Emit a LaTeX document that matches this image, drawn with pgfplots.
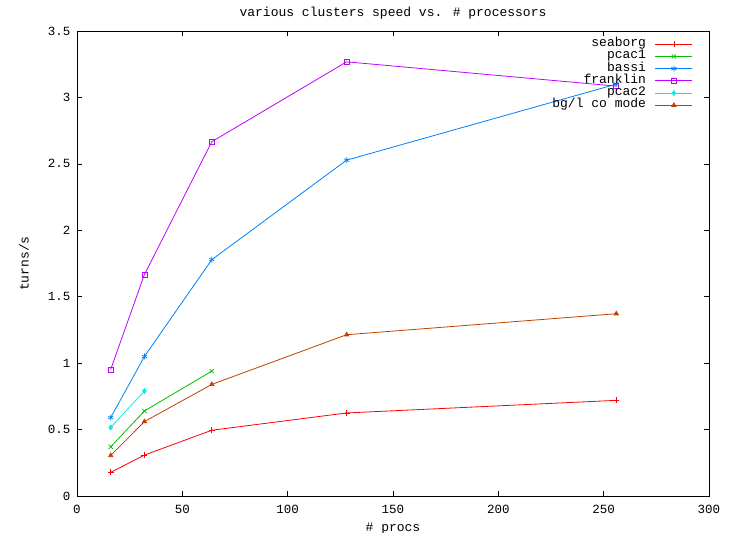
\documentclass[border=0pt]{standalone}
\usepackage{fontspec}
\setmainfont{Liberation Mono}
\usepackage{pgfplots}
\pgfplotsset{compat=1.18}
\definecolor{gpred}{RGB}{255,0,0}
\definecolor{gpgreen}{RGB}{0,192,0}
\definecolor{gpblue}{RGB}{0,128,255}
\definecolor{gpmag}{RGB}{192,0,255}
\definecolor{gpcyan}{RGB}{0,238,238}
\definecolor{gpbrown}{RGB}{192,64,0}
\begin{document}
\begin{tikzpicture}[x=1pt,y=1pt]
\useasboundingbox (-77,-37) rectangle (655,496);
\begin{axis}[
  scale only axis,
  width=632pt, height=465pt,
  at={(0,0)}, anchor=south west,
  xmin=0, xmax=300, ymin=0, ymax=3.5,
  xtick={0,50,...,300},
  ytick={0,0.5,...,3.5},
  tick align=inside,
  major tick length=5pt,
  axis line style={line width=0.6pt},
  every tick/.style={black, line width=0.6pt},
  font=\fontsize{12.5}{14}\selectfont,
  /pgf/number format/assume math mode=true,
  title={various clusters speed vs. \# processors},
  title style={at={(axis description cs:0.5,1.026)}, anchor=center, font=\fontsize{13}{15}\selectfont},
  xlabel={\# procs},
  xlabel style={at={(axis description cs:0.5,-0.071)}, anchor=center, font=\fontsize{13}{15}\selectfont},
  ylabel={turns/s},
  ylabel style={at={(axis description cs:-0.084,0.5)}, anchor=center, font=\fontsize{13}{15}\selectfont},
  xticklabel style={yshift=-6pt},
  yticklabel style={xshift=-3pt},
  legend plot pos=right,
  legend cell align=right,
  legend style={draw=none, fill=none, at={(axis description cs:0.9747,0.985)}, anchor=north east,
    inner sep=0pt, row sep=0pt, font=\fontsize{13}{15}\selectfont,
    nodes={inner sep=0pt, text height=8.5pt, text depth=3.7pt},
    /tikz/every odd column/.style={column sep=9pt}},
  legend image code/.code={\draw[mark repeat=2,mark phase=2] plot coordinates {(0pt,0pt) (18.5pt,0pt) (37pt,0pt)};},
  every axis plot/.append style={line width=0.8pt, mark size=3pt, mark options={solid, line width=0.7pt}},
]
\addplot[gpred, mark=+] coordinates {(16,0.178) (32,0.308) (64,0.495) (128,0.625) (256,0.72)};
\addlegendentry{seaborg}
\addplot[gpgreen, mark=x] coordinates {(16,0.37) (32,0.64) (64,0.94)};
\addlegendentry{pcac1}
\addplot[gpblue, mark=asterisk] coordinates {(16,0.59) (32,1.05) (64,1.779) (128,2.528) (256,3.10)};
\addlegendentry{bassi}
\addplot[gpmag, mark=square, mark size=2.5pt] coordinates {(16,0.953) (32,1.667) (64,2.667) (128,3.268) (256,3.085)};
\addlegendentry{franklin}
\addplot[gpcyan, mark=diamond*, mark size=2.5pt] coordinates {(16,0.516) (32,0.79)};
\addlegendentry{pcac2}
\addplot[gpbrown, mark=triangle*, mark size=2.5pt] coordinates {(16,0.305) (32,0.56) (64,0.84) (128,1.214) (256,1.372)};
\addlegendentry{bg/l co mode}
\end{axis}
\end{tikzpicture}
\end{document}
